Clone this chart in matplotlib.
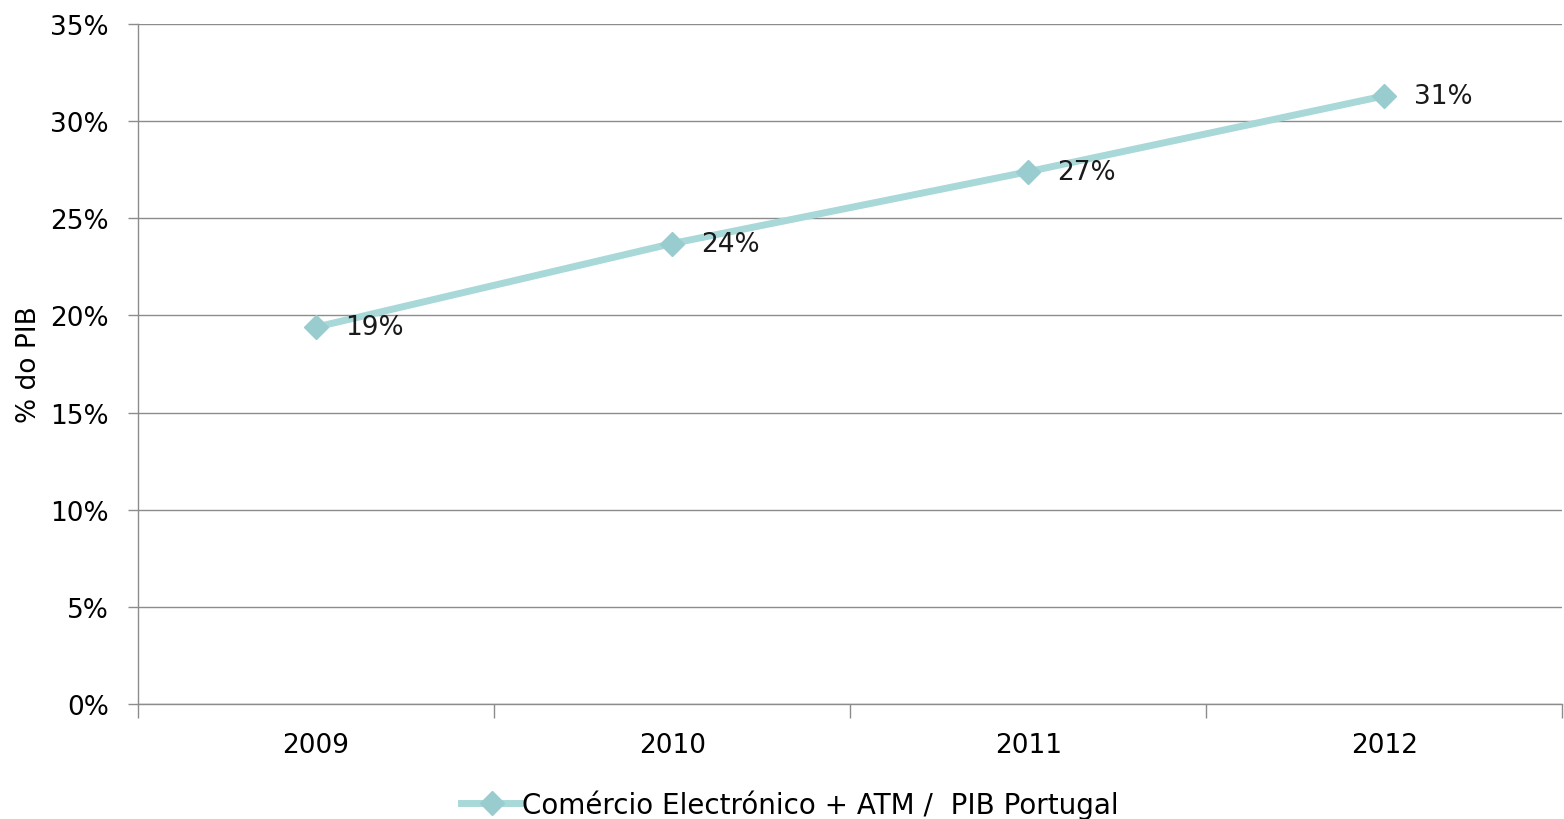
import matplotlib.pyplot as plt
from matplotlib.ticker import FixedLocator

plt.rcParams['font.family'] = ['DejaVu Sans']

# dados
anos = ['2009', '2010', '2011', '2012']
valores = [19.4, 23.7, 27.4, 31.3]
rotulos = ['19%', '24%', '27%', '31%']
serie = 'Comércio Electrónico + ATM /  PIB Portugal'

cor = '#A8D8D8'
cinza = '#8c8c8c'

fig = plt.figure(figsize=(15.64, 8.2), dpi=100)
ax = fig.add_axes([0.0882, 0.1402, 0.9108, 0.8293])

x = list(range(len(anos)))
ax.plot(x, valores, color=cor, linewidth=5, marker='D', markersize=12,
        markerfacecolor='#98CCCE', markeredgecolor='#98CCCE', label=serie)

for xi, v, r in zip(x, valores, rotulos):
    ax.annotate(r, (xi, v), xytext=(21, 0), textcoords='offset points',
                va='center', ha='left', fontsize=19, color='#1a1a1a')

ax.set_xlim(-0.5, 3.5)
ax.set_ylim(0, 35)
ax.set_yticks(range(0, 36, 5))
ax.set_yticklabels([f'{t}%' for t in range(0, 36, 5)])
ax.set_xticks(x)
ax.set_xticklabels(anos)
ax.xaxis.set_minor_locator(FixedLocator([-0.5, 0.5, 1.5, 2.5, 3.5]))
ax.tick_params(axis='x', which='major', length=0, pad=20, labelsize=19)
ax.tick_params(axis='x', which='minor', length=10, color=cinza, width=1)
ax.tick_params(axis='y', length=7, color=cinza, width=1, labelsize=19, pad=14)

ax.grid(axis='y', color=cinza, linewidth=1)
ax.set_axisbelow(True)
for s in ['top', 'right']:
    ax.spines[s].set_visible(False)
for s in ['left', 'bottom']:
    ax.spines[s].set_color(cinza)
    ax.spines[s].set_linewidth(1)

ax.set_ylabel('% do PIB', fontsize=19, labelpad=6)

fig.legend(loc='lower center', bbox_to_anchor=(0.505, -0.03), frameon=False,
           fontsize=20, handlelength=2.2, handletextpad=0.0)

fig.savefig('out.png', dpi=100)
